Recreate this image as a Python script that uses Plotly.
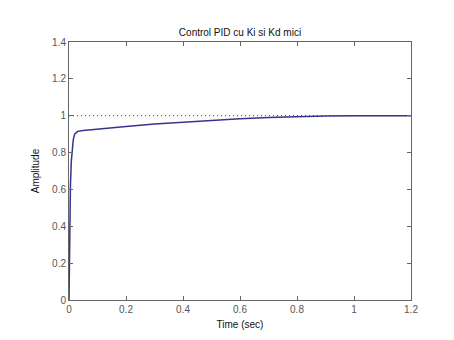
import plotly.graph_objects as go

t = [0, 0.002, 0.005, 0.008, 0.01, 0.015, 0.02, 0.025, 0.03, 0.05, 0.1, 0.2, 0.3, 0.4, 0.5, 0.6, 0.7, 0.8, 0.9, 1.0, 1.1, 1.2]
amp = [0, 0.35, 0.62, 0.75, 0.80, 0.87, 0.90, 0.91, 0.915, 0.92, 0.928, 0.942, 0.955, 0.966, 0.976, 0.984, 0.99, 0.995, 0.998, 1.0, 1.0, 1.0]
ref_t = [0, 1.2]
ref_y = [1, 1]
xticks = [0, 0.2, 0.4, 0.6, 0.8, 1, 1.2]
yticks = [0, 0.2, 0.4, 0.6, 0.8, 1, 1.2, 1.4]

fig = go.Figure()
fig.add_trace(go.Scatter(x=ref_t, y=ref_y, mode="lines",
                         line=dict(color="#333333", width=1, dash="1px,3px"), hoverinfo="skip"))
fig.add_trace(go.Scatter(x=t, y=amp, mode="lines",
                         line=dict(color="#34348f", width=1.5)))

axis_common = dict(showline=True, linecolor="#666666", linewidth=1, mirror="allticks",
                   ticks="inside", ticklen=4, tickcolor="#666666", showgrid=False,
                   zeroline=False, tickfont=dict(family="Liberation Sans", size=10, color="#555555"))
fig.update_layout(
    width=454, height=340,
    margin=dict(l=69, r=43, t=42, b=37),
    paper_bgcolor="white", plot_bgcolor="white",
    showlegend=False,
    title=dict(text="Control PID cu Ki si Kd mici", x=(69 + 411) / 2 / 454, xanchor="center",
               y=1 - 32 / 340, yanchor="middle",
               font=dict(family="Liberation Sans", size=10, color="#111111")),
    xaxis=dict(range=[0, 1.2], tickvals=xticks, ticktext=[str(v) for v in xticks],
               title=dict(text="Time (sec)", standoff=6,
                          font=dict(family="Liberation Sans", size=10, color="#111111")),
               **axis_common),
    yaxis=dict(range=[0, 1.4], tickvals=yticks, ticktext=[str(v) for v in yticks],
               title=dict(text="Amplitude", standoff=10,
                          font=dict(family="Liberation Sans", size=10, color="#111111")),
               **axis_common),
)
fig.write_html("out.html")
